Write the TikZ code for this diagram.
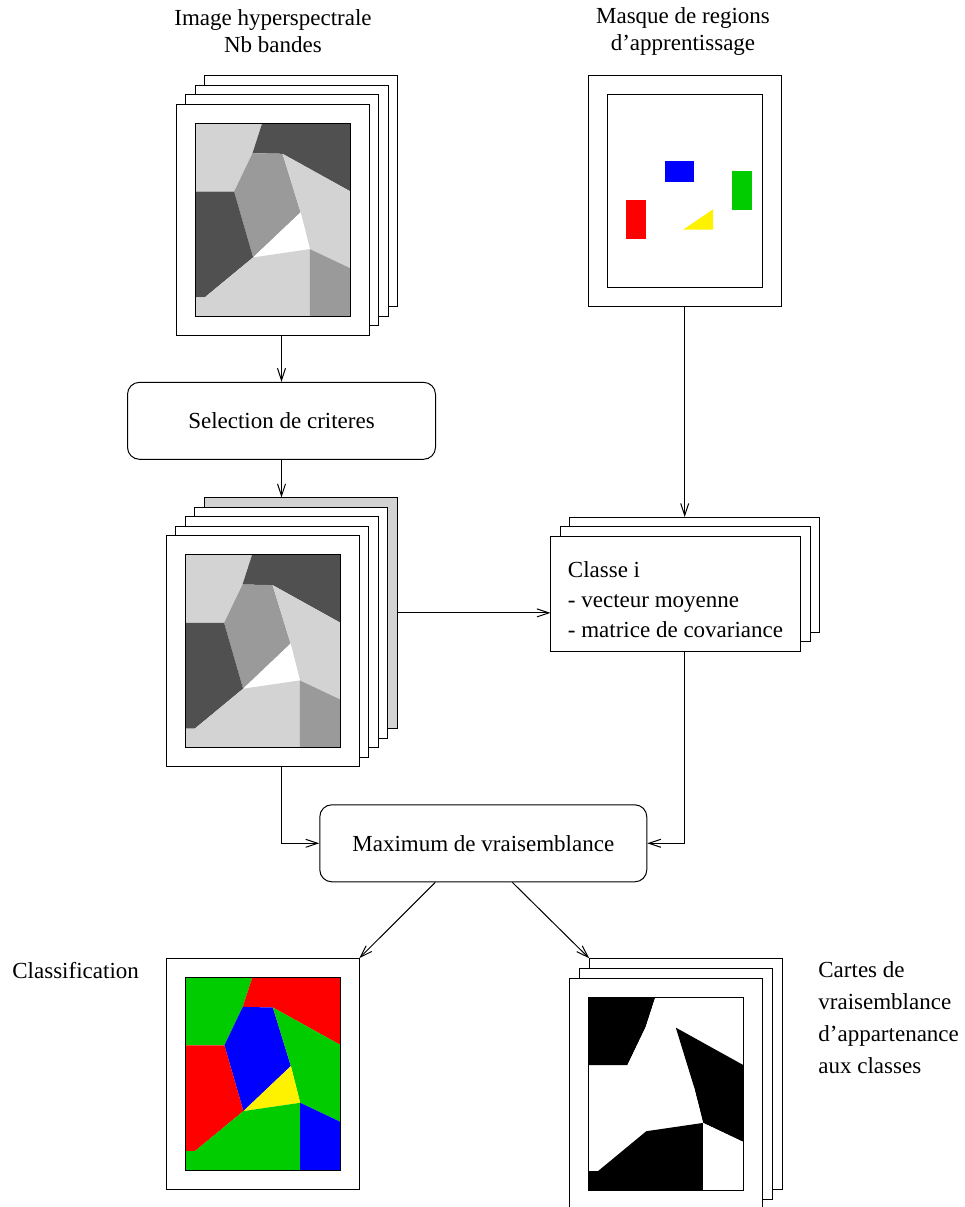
\documentclass[tikz,border=0pt]{standalone}
\usepackage{fontspec}
\setmainfont{Liberation Serif}
\usetikzlibrary{positioning}
\usetikzlibrary{arrows.meta}

\definecolor{gdark}{HTML}{505050}
\definecolor{gmid}{HTML}{9A9A9A}
\definecolor{glight}{HTML}{D3D3D3}
\definecolor{cgreen}{HTML}{00CC00}

% regions of the test image, in pixels from the top left corner
\newcommand{\regions}[8]{%
  \fill[#1] (0,0) -- (67.1,0) -- (57.5,29.7) -- (39.1,68.1) -- (0,68.1) -- cycle;
  \fill[#2] (67.1,0) -- (155,0) -- (155,67.7) -- (87.6,30.3) -- (57.5,29.7) -- cycle;
  \fill[#3] (57.5,29.7) -- (87.6,30.3) -- (105.6,88.8) -- (58.1,133.9) -- (39.1,68.1) -- cycle;
  \fill[#4] (87.6,30.3) -- (155,67.7) -- (155,144.6) -- (114.9,125.6) -- (105.6,88.8) -- cycle;
  \fill[#5] (105.6,88.8) -- (114.9,125.6) -- (58.1,133.9) -- cycle;
  \fill[#6] (0,68.1) -- (39.1,68.1) -- (58.1,133.9) -- (9.7,173.9) -- (0,173.9) -- cycle;
  \fill[#7] (0,173.9) -- (9.7,173.9) -- (58.1,133.9) -- (114.9,125.6) -- (114.9,193) -- (0,193) -- cycle;
  \fill[#8] (114.9,125.6) -- (155,144.6) -- (155,193) -- (114.9,193) -- cycle;
}
\newcommand{\trainmask}{%
  \fill[blue] (57.3,66.7) rectangle (87,87.4);
  \fill[cgreen] (124.3,76.7) rectangle (145,116);
  \fill[red] (19,105.4) rectangle (39,145);
  \fill[yellow] (76,135.4) -- (106,115) -- (106,135.4) -- cycle;
}
\newcommand{\labelfont}{\fontsize{11.5}{14}\selectfont}

\begin{document}
\begin{tikzpicture}[x=0.5pt, y=-0.5pt,
  page/.style={rectangle, draw, fill=white, line width=0.5pt, minimum width=96.5pt, minimum height=115.5pt, inner sep=0pt, outer sep=0pt},
  img/.style={rectangle, draw, line width=0.5pt, minimum width=77.5pt, minimum height=96.5pt, inner sep=0pt, outer sep=0pt},
  inimg/.style={shift={(#1)}, shift={(-77.5,-96.5)}},
  proc/.style={rectangle, draw, rounded corners=6pt, line width=0.5pt, minimum height=38.5pt, font=\labelfont},
  card/.style={rectangle, draw, fill=white, line width=0.5pt, minimum width=125pt, minimum height=57.5pt, inner sep=0pt, outer sep=0pt},
  lbl/.style={inner sep=0pt, font=\labelfont},
  arr/.style={-{Straight Barb[length=6pt,width=4pt]}, line width=0.5pt}
]
\useasboundingbox (0,0) rectangle (965,1207);

% Titles
\node[lbl, align=center, font=\fontsize{11.5}{13.5}\selectfont] (hyptitle) at (273,31) {Image hyperspectrale\\Nb bandes};
\node[lbl, align=center, font=\fontsize{11.5}{13.5}\selectfont] (masktitle) at (683,31) {Masque de regions\\d'apprentissage};

% Hyperspectral image
\foreach \i in {3,2,1}
  \node[page] (hyp\i) at ({272.5+9.6*\i},{220-9.6*\i}) {};
\node[page] (hyp) at (272.5,220) {};
\begin{scope}[inimg=hyp]
  \regions{glight}{gdark}{gmid}{glight}{white}{gdark}{glight}{gmid}
\end{scope}
\node[img] (hypimg) at (hyp) {};

% Training mask
\node[page] (mask) at (684.7,190.7) {};
\begin{scope}[inimg=mask]
  \trainmask
\end{scope}
\node[img] (maskimg) at (mask) {};

% Feature selection
\node[proc, minimum width=154pt] (sel) at (281.5,420.8) {Selection de criteres};

\node[page, fill=glight] (st4) at ({262.5+9.6*4},{651.3-9.6*4}) {};
\foreach \i in {3,2,1}
  \node[page] (st\i) at ({262.5+9.6*\i},{651.3-9.6*\i}) {};
\node[page] (st) at (262.5,651.3) {};
\begin{scope}[inimg=st]
  \regions{glight}{gdark}{gmid}{glight}{white}{gdark}{glight}{gmid}
\end{scope}
\node[img] (stimg) at (st) {};

% Class statistics
\foreach \i in {2,1}
  \node[card] (cl\i) at ({675.5+9.6*\i},{593.7-9.6*\i}) {};
\node[card, align=left, font=\fontsize{11.5}{15}\selectfont] (cl) at (675.5,593.7) {\rule{0pt}{13.9pt}Classe i\\- vecteur moyenne\\- matrice de covariance};

% Maximum likelihood
\node[proc, minimum width=163.5pt] (max) at (483.3,843.3) {Maximum de vraisemblance};

% Results
\node[page] (cls) at (262.8,1073.7) {};
\begin{scope}[inimg=cls]
  \regions{cgreen}{red}{blue}{cgreen}{yellow}{red}{cgreen}{blue}
\end{scope}
\node[img] (clsimg) at (cls) {};
\node[lbl, anchor=west] (clstitle) at (12,970) {Classification};

\foreach \i in {2,1}
  \node[page] (lik\i) at ({665.7+10*\i},{1093.8-10*\i}) {};
\node[page] (lik) at (665.7,1093.8) {};
\begin{scope}[inimg=lik]
  \regions{black}{white}{white}{black}{white}{white}{black}{white}
\end{scope}
\node[img] (likimg) at (lik) {};
\node[lbl, anchor=north west, align=left, font=\fontsize{11.5}{16}\selectfont] (liktitle) at (818,961) {Cartes de\\vraisemblance\\d'appartenance\\aux classes};

% Arrows
\draw[arr] (hyp.south -| sel.north) -- (sel.north);
\draw[arr] (sel.south) -- (sel.south |- st4.north);
\draw[arr] (mask.south) -- (mask.south |- cl2.north);
\draw[arr] (st4.east) -- (st4.east -| cl.west);
\draw[arr] (st.south -| sel.south) |- (max.west);
\draw[arr] (cl.south -| mask.south) |- (max.east);
\draw[arr] ([xshift=-24pt]max.south) -- (cls.north east);
\draw[arr] ([xshift=14.5pt]max.south) -- (lik2.north west);

\end{tikzpicture}
\end{document}
